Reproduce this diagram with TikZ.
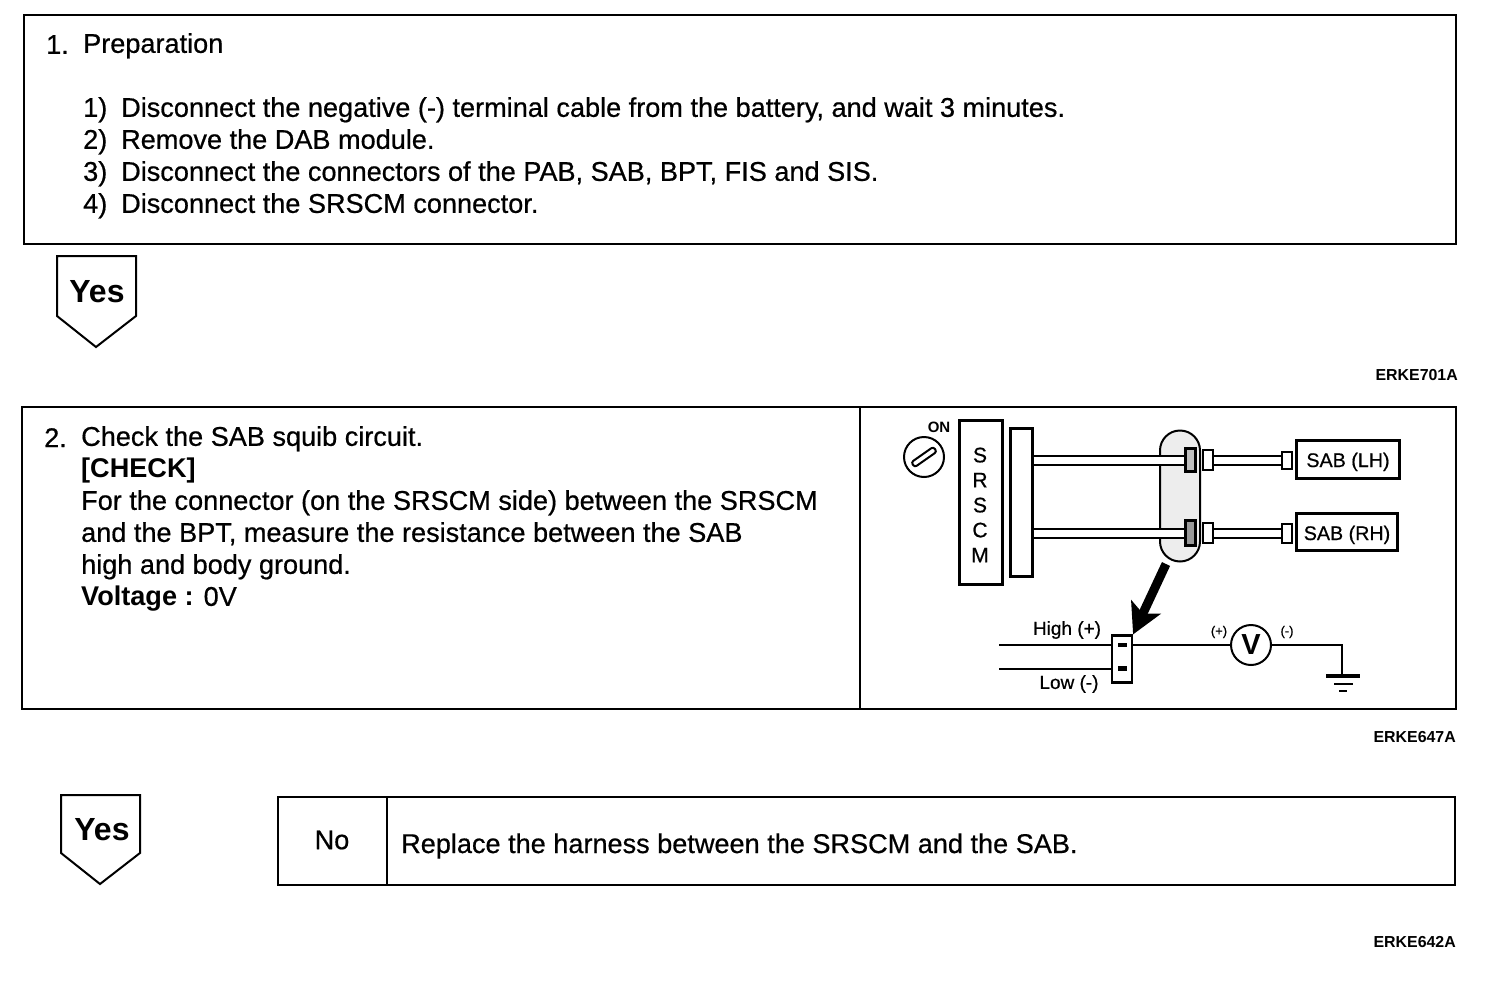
\documentclass[tikz,border=0pt]{standalone}
\usepackage{fontspec}
\setmainfont[UprightFeatures={FakeBold=0.6}]{Liberation Sans}
\usetikzlibrary{arrows.meta,positioning,calc}

\begin{document}
\begin{tikzpicture}[x=1pt,y=-1pt,
  panel/.style={rectangle,draw=black,line width=2pt,anchor=north west,inner sep=0pt},
  bodytext/.style={anchor=north west,inner sep=0pt,align=left,font=\fontsize{27.1}{32}\selectfont},
  figcode/.style={anchor=east,inner sep=0pt,font=\fontsize{15.9}{18}\bfseries\selectfont},
  yesflag/.style={draw=black,line width=2pt,line join=miter},
  yestext/.style={inner sep=0pt,font=\fontsize{32}{36}\bfseries\selectfont},
  partbox/.style={rectangle,draw=black,line width=3pt,inner sep=0pt,fill=white},
  sabbox/.style={partbox,text height=20pt,text depth=4pt,font=\fontsize{19.7}{22}\selectfont},
  plug/.style={rectangle,draw=black,line width=2pt,inner sep=0pt,fill=white,minimum width=10pt},
  socket/.style={rectangle,draw=black,line width=3pt,inner sep=0pt,fill=gray!50,minimum width=10pt},
  wirepair/.style={draw=black,line width=2pt,double=white,double distance=7pt},
  wire/.style={draw=black,line width=1.8pt},
  difflabel/.style={inner sep=0pt,font=\fontsize{19}{21}\selectfont},
  tinylabel/.style={inner sep=0pt,font=\fontsize{13}{15}\selectfont},
  gndbar/.style={rectangle,fill=black,inner sep=0pt,minimum height=2.5pt}
]
\useasboundingbox (0,0) rectangle (1504,996);

% ===== PREPARATION =====
\node[panel,minimum width=1432pt,minimum height=229pt] (prep) at (23,14) {};
\node[bodytext] (prepnum) at (46,35) {1.};
\node[bodytext] (preptitle) at (83,33) {Preparation};
\node[bodytext] (prepnums) at (83,97) {1)\\2)\\3)\\4)};
\node[bodytext] (preplist) at (121,97) {Disconnect the negative (-) terminal cable from the battery, and wait 3 minutes.\\
Remove the DAB module.\\
Disconnect the connectors of the PAB, SAB, BPT, FIS and SIS.\\
Disconnect the SRSCM connector.};

\draw[yesflag] (57,256) -- (136,256) -- (136,316) -- (96,347) -- (57,316) -- cycle;
\node[yestext] (yesone) at (97,292) {Yes};
\node[figcode] (codeone) at (1458,375) {ERKE701A};

% ===== CHECK =====
\node[panel,minimum width=1434pt,minimum height=302pt] (check) at (21,406) {};
\draw[line width=2pt] (860,406) -- (860,709);
\node[bodytext] (checknum) at (44,428) {2.};
\node[bodytext] (checktext) at (81,426) {Check the SAB squib circuit.\\
\textbf{[CHECK]}\\
For the connector (on the SRSCM side) between the SRSCM\\
and the BPT, measure the resistance between the SAB\\
high and body ground.\\
\textbf{Voltage :} 0V};

% harness
\node[rectangle,draw=black,line width=2pt,fill=gray!14,rounded corners=20pt,minimum width=40pt,minimum height=131pt,inner sep=0pt] (capsule) at (1180,496) {};
\node[draw=black,circle,line width=2pt,minimum size=40pt,inner sep=0pt] (key) at (924,457) {};
\node[draw=black,rectangle,rotate=35,rounded corners=2.5pt,line width=2pt,minimum width=27pt,minimum height=6pt,inner sep=0pt] (keyslot) at (key) {};
\node[tinylabel,font=\fontsize{15}{17}\bfseries\selectfont] (onlabel) at (939,427) {ON};
\node[partbox,minimum width=43pt,minimum height=164pt] (srscm) at (981,502) {};
\node[inner sep=0pt,align=center,font=\fontsize{21}{25}\selectfont] (srscmtext) at (980,505) {S\\R\\S\\C\\M};
\node[partbox,minimum width=22pt,minimum height=148pt] (bar) at (1021,502) {};

\node[sabbox,minimum width=103pt,minimum height=38pt] (sablh) at (1348,459) {SAB (LH)};
\node[sabbox,minimum width=101pt,minimum height=37pt] (sabrh) at (1347,532) {SAB (RH)};
\node[socket,minimum height=23pt] (sockleft) at (1190,460) {};
\node[socket,minimum height=25pt,fill=gray!80] (sockright) at (1190,533) {};
\node[plug,minimum height=20pt] (jacklh) at (1208,460) {};
\node[plug,minimum height=20pt] (jackrh) at (1208,533) {};
\node[plug,minimum height=17pt] (endlh) at (1287,460) {};
\node[plug,minimum height=19pt] (endrh) at (1287,533) {};

\draw[wirepair] (bar.east |- sockleft) -- (sockleft.west);
\draw[wirepair] (bar.east |- sockright) -- (sockright.west);
\draw[wirepair] (jacklh) -- (endlh);
\draw[wirepair] (jackrh) -- (endrh);
\node[plug,minimum height=20pt] at (jacklh) {};
\node[plug,minimum height=20pt] at (jackrh) {};
\node[plug,minimum height=17pt] at (endlh) {};
\node[plug,minimum height=19pt] at (endrh) {};

% measurement
\node[partbox,line width=2.2pt,minimum width=20pt,minimum height=47pt] (lowconn) at (1122,659) {};
\node[gndbar,minimum width=9pt,minimum height=4pt] (pinhigh) at (1122,645) {};
\node[gndbar,minimum width=9pt,minimum height=5pt] (pinlow) at (1122,668) {};
\coordinate (highend) at (999,645);
\coordinate (lowend) at (999,669);
\coordinate (arrowtail) at (1166,564);
\draw[wire] (highend) -- (lowconn.west |- highend);
\draw[wire] (lowend) -- (lowconn.west |- lowend);
\draw[-{Stealth[length=30pt,width=32pt,inset=7pt]},line width=9pt] (arrowtail) -- (lowconn.north east);
\node[difflabel] (highlabel) at (1067,630) {High (+)};
\node[difflabel] (lowlabel) at (1069,684) {Low (-)};

\node[draw=black,circle,line width=2pt,minimum size=40pt,inner sep=0pt,font=\fontsize{29}{30}\bfseries\selectfont] (meter) at (1251,645) {V};
\node[tinylabel] (pluslabel) at (1219,632) {(+)};
\node[tinylabel] (minuslabel) at (1287,632) {(-)};
\coordinate (gndtop) at (1342,676);
\node[gndbar,minimum width=34pt,minimum height=4pt] (gndone) at (1343,676) {};
\node[gndbar,minimum width=19pt] (gndtwo) at (1343,684) {};
\node[gndbar,minimum width=8pt] (gndthree) at (1343,691) {};
\draw[wire] (lowconn.east |- highend) -- (meter.west);
\draw[wire] (meter.east) -| (gndtop);

\node[figcode] (codetwo) at (1456,737) {ERKE647A};

% ===== RESULT =====
\draw[yesflag] (61,795) -- (140,795) -- (140,853) -- (100,884) -- (61,853) -- cycle;
\node[yestext] (yestwo) at (102,830) {Yes};
\node[panel,minimum width=1177pt,minimum height=88pt] (nobox) at (277,796) {};
\draw[line width=2pt] (387,796) -- (387,885);
\node[font=\fontsize{27.1}{32}\selectfont,inner sep=0pt] (nolabel) at (332,840) {No};
\node[font=\fontsize{27.1}{32}\selectfont,inner sep=0pt,anchor=west] (notext) at (401,846) {Replace the harness between the SRSCM and the SAB.};
\node[figcode] (codethree) at (1456,942) {ERKE642A};
\end{tikzpicture}
\end{document}
